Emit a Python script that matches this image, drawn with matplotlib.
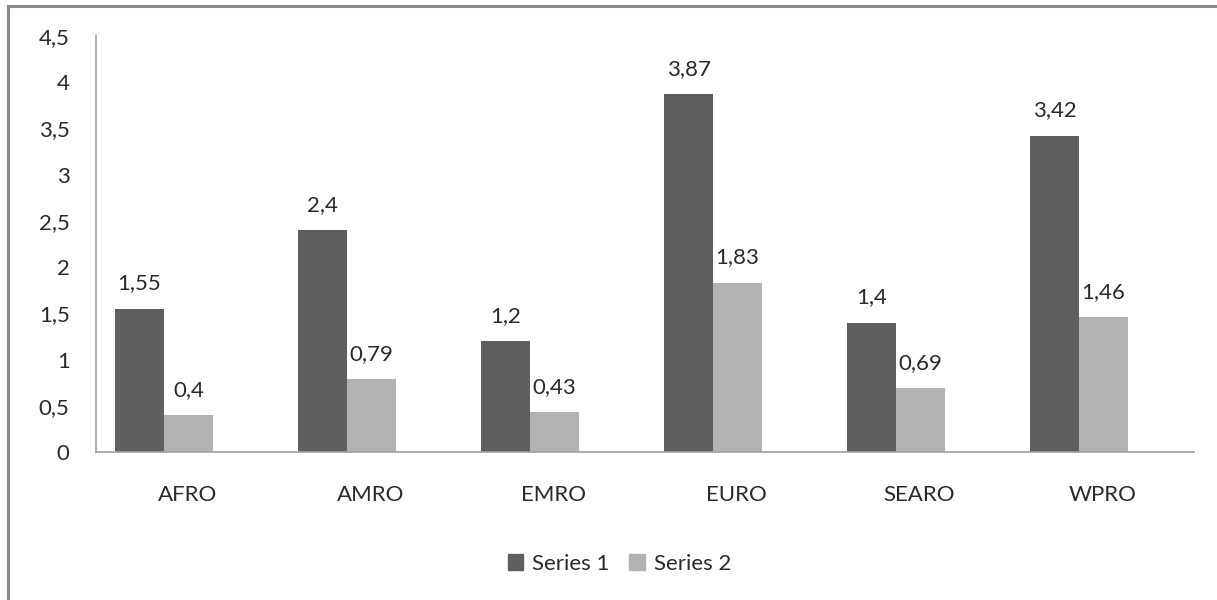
import matplotlib.pyplot as plt
import numpy as np
from matplotlib.lines import Line2D
from matplotlib.patches import Patch

regions = ['AFRO', 'AMRO', 'EMRO', 'EURO', 'SEARO', 'WPRO']
series1 = [1.55, 2.4, 1.2, 3.87, 1.4, 3.42]
series2 = [0.4, 0.79, 0.43, 1.83, 0.69, 1.46]
yticks = [0, 0.5, 1, 1.5, 2, 2.5, 3, 3.5, 4, 4.5]

plt.rcParams['font.family'] = ['Lato', 'DejaVu Sans']
txt = '#2a2a2a'
dark = '#5f5f5f'
light = '#b2b2b2'
fs = 16

def comma(v):
    s = ('%g' % v)
    return s.replace('.', ',')

fig = plt.figure(figsize=(12.17, 6), dpi=100)
ax = fig.add_axes([0.0789, 0.2467, 0.9022, 0.6933])

x = np.arange(len(regions))
w = 0.268
b1 = ax.bar(x - 0.262, series1, w, color=dark, label='Series 1')
b2 = ax.bar(x - 0.262 + w, series2, w, color=light, label='Series 2')

for bars, vals in [(b1, series1), (b2, series2)]:
    for r, v in zip(bars, vals):
        ax.annotate(comma(v), (r.get_x() + r.get_width() / 2, v),
                    xytext=(0, 11), textcoords='offset points',
                    ha='center', va='bottom', fontsize=fs, color=txt)

ax.set_xlim(-0.5, 5.5)
ax.set_ylim(0, 4.5)
ax.set_yticks(yticks)
ax.set_yticklabels([comma(t) for t in yticks])
ax.set_xticks(x)
ax.set_xticklabels(regions)
ax.tick_params(axis='both', length=0, labelsize=fs, labelcolor=txt)
ax.tick_params(axis='x', pad=24)
ax.tick_params(axis='y', pad=19)
for s in ['top', 'right']:
    ax.spines[s].set_visible(False)
for s in ['left', 'bottom']:
    ax.spines[s].set_color('#a0a0a0')
    ax.spines[s].set_linewidth(1.2)

handles = [Patch(color=dark, label='Series 1'), Patch(color=light, label='Series 2')]
fig.legend(handles=handles, loc='center', bbox_to_anchor=(0.509, 0.06), ncol=2,
           frameon=False, fontsize=fs, handlelength=0.7, handleheight=0.7,
           handletextpad=0.4, columnspacing=0.9, labelcolor=txt)

# outer chart border (cropped)
fig.add_artist(Line2D([0.0066, 0.0066], [0, 0.99], transform=fig.transFigure,
                      color='#8a8a8a', lw=2.2))
fig.add_artist(Line2D([0.0066, 1.0], [0.99, 0.99], transform=fig.transFigure,
                      color='#8a8a8a', lw=2.2))

fig.savefig('out.png', dpi=100)
